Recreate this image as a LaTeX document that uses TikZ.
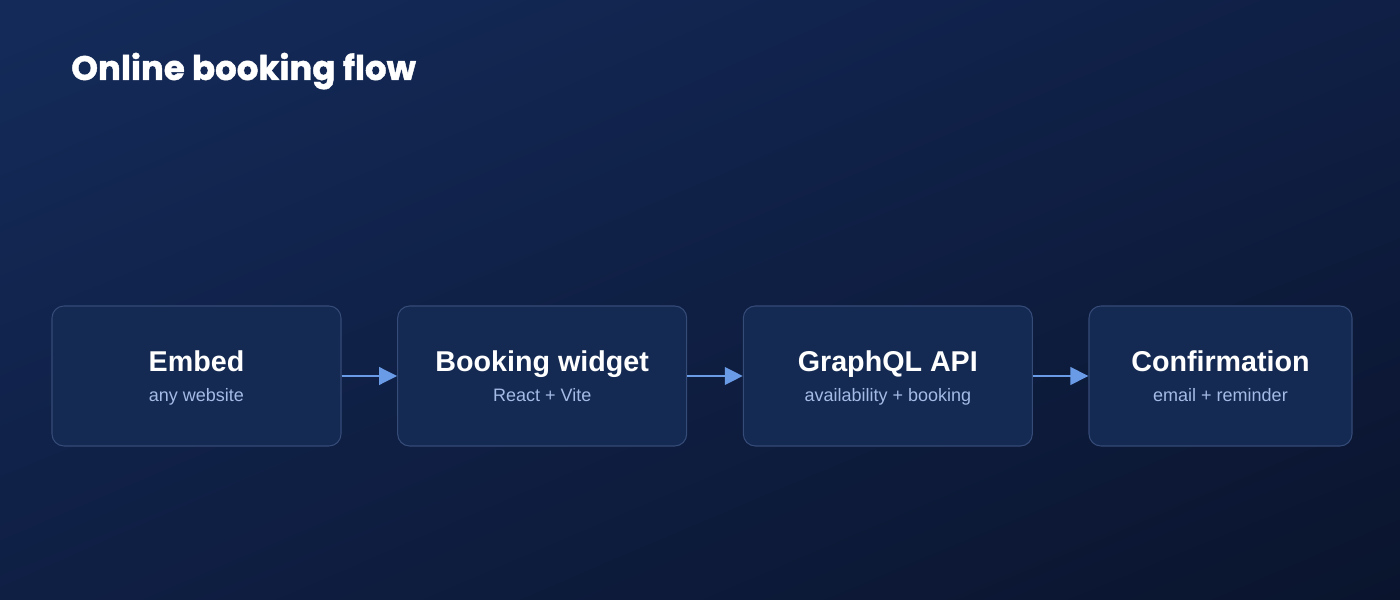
\documentclass[tikz,border=0pt]{standalone}
\usepackage{fontspec}
\setmainfont{Liberation Sans}
\newfontfamily\headfont[BoldFeatures={FakeBold=1.2}]{Poppins}
\usetikzlibrary{arrows.meta,positioning,shadings}
\definecolor{bgtl}{HTML}{142B5A}
\definecolor{bgtr}{HTML}{0F1F45}
\definecolor{bgbl}{HTML}{0F1F44}
\definecolor{bgbr}{HTML}{0A142D}
\definecolor{boxfill}{HTML}{152A52}
\definecolor{boxline}{HTML}{354B78}
\definecolor{subtext}{HTML}{A3BBE6}
\definecolor{arrowblue}{HTML}{6A9BE6}

\begin{document}
\begin{tikzpicture}[x=0.75pt,y=0.75pt,
      stepbox/.style={rectangle, rounded corners=9pt, draw=boxline, line width=0.8pt, fill=boxfill,
        minimum width=216.75pt, minimum height=105pt, inner sep=0pt},
      steptitle/.style={anchor=base, inner sep=0pt, text=white, font=\bfseries\fontsize{21.5}{24}\selectfont},
      stepsub/.style={anchor=base, inner sep=0pt, text=subtext, font=\fontsize{13.5}{16}\selectfont},
      pfeil/.style={-{Triangle[length=13.5pt,width=13pt]}, draw=arrowblue, fill=arrowblue, line width=2.2pt}]

% background
\shade[upper left=bgtl, upper right=bgtr, lower left=bgbl, lower right=bgbr] (0,0) rectangle (1400,600);
\useasboundingbox (0,0) rectangle (1400,600);

% title
\node[anchor=base west, text=white, inner sep=0pt, font=\headfont\bfseries\fontsize{25.5}{30}\selectfont] (title) at (71,520) {Online booking flow};

% steps
\node[stepbox] (v1) at (196.5,224) {};
\node[stepbox, right=41.7pt of v1] (v2) {};
\node[stepbox, right=41.7pt of v2] (v3) {};
\node[stepbox, right=41.7pt of v3, minimum width=197.25pt] (v4) {};

\node[steptitle] (t1) at ([yshift=3pt]v1.center) {Embed};
\node[stepsub] (s1) at ([yshift=-19.5pt]v1.center) {any website};
\node[steptitle] (t2) at ([yshift=3pt]v2.center) {Booking widget};
\node[stepsub] (s2) at ([yshift=-19.5pt]v2.center) {React + Vite};
\node[steptitle] (t3) at ([yshift=3pt]v3.center) {GraphQL API};
\node[stepsub] (s3) at ([yshift=-19.5pt]v3.center) {availability + booking};
\node[steptitle] (t4) at ([yshift=3pt]v4.center) {Confirmation};
\node[stepsub] (s4) at ([yshift=-19.5pt]v4.center) {email + reminder};

\draw[pfeil] (v1) -- (v2);
\draw[pfeil] (v2) -- (v3);
\draw[pfeil] (v3) -- (v4);

\end{tikzpicture}
\end{document}
